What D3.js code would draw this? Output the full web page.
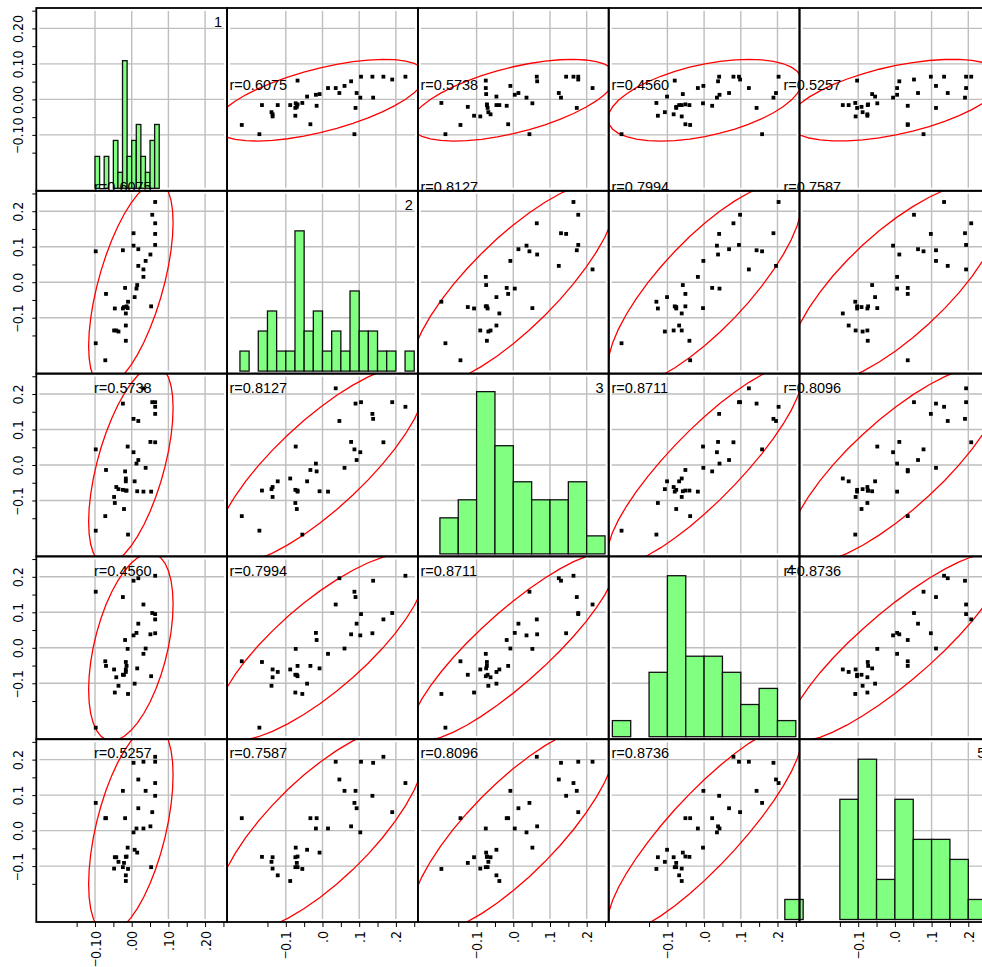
<!DOCTYPE html>
<html>
<head>
<meta charset="utf-8">
<script src="https://cdn.jsdelivr.net/npm/d3@7"></script>
<style>
  body { margin: 0; background: #ffffff; }
  svg { display: block; }
  .axis-label { font-family: "Liberation Sans Narrow", "Arial Narrow", "DejaVu Sans Condensed", sans-serif; font-size: 14px; fill: #000; }
  .axis-label .minus { font-family: "Noto Sans CJK JP", "Liberation Sans", sans-serif; }
  .r-label { font-family: "Liberation Sans", Arial, sans-serif; font-size: 14.5px; fill: #000; }
</style>
</head>
<body>
<svg id="chart" width="982" height="967"></svg>
<script>
// ---- data: five variables, 35 observations ----
const varNames = ["1", "2", "3", "4", "5"];

const v1 = [0.064, 0.032, 0.064, 0.005, 0.018, 0.064, 0.038, -0.024, -0.098, 0.018,
            0.056, 0.064, -0.072, -0.070, -0.018, 0.051, 0.013, 0.032, 0.005, -0.011,
            0.008, 0.015, -0.016, -0.042, -0.046, -0.014, -0.036, -0.021, 0.053, -0.024,
            -0.048, -0.010, -0.016, -0.016, -0.098];
const v2 = [0.166, 0.036, 0.105, 0.138, 0.046, 0.226, 0.060, 0.090, 0.087, 0.093,
            0.190, 0.136, -0.220, -0.033, -0.016, 0.078, -0.018, 0.015, 0.103, -0.073,
            -0.042, -0.008, -0.165, -0.136, -0.074, -0.068, -0.139, -0.070, -0.068, -0.074,
            -0.136, -0.055, -0.122, -0.088, -0.172];
const v3 = [0.064, 0.216, 0.177, 0.130, 0.124, 0.164, -0.008, 0.173, 0.044, 0.014,
            0.177, 0.144, -0.144, -0.014, -0.018, 0.065, 0.004, -0.075, 0.036, 0.052,
            -0.046, -0.074, -0.072, -0.062, -0.107, -0.072, -0.068, -0.124, -0.075, -0.070,
            -0.090, -0.196, -0.046, -0.038, -0.185];
const v4 = [0.080, 0.122, 0.095, 0.189, 0.196, 0.203, -0.002, 0.143, 0.158, 0.068,
            0.098, 0.041, -0.038, -0.051, 0.022, 0.038, 0.042, -0.017, 0.035, -0.003,
            -0.101, -0.058, -0.040, -0.083, -0.126, -0.051, -0.107, -0.076, -0.080, -0.076,
            -0.061, -0.130, -0.068, -0.061, -0.225];
const v5 = [0.208, 0.194, 0.194, 0.191, 0.144, 0.134, 0.112, 0.112, 0.078, 0.063,
            0.052, 0.098, 0.035, 0.035, 0.035, 0.012, 0.006, 0.006, -0.005, -0.048,
            -0.054, -0.062, -0.074, -0.075, -0.075, -0.073, -0.088, -0.091, -0.103, -0.103,
            -0.107, -0.108, -0.126, -0.142, -0.275];
const variables = [v1, v2, v3, v4, v5];

// pairwise correlations printed in the off-diagonal panels
const corr = [
  [1, 0.6075, 0.5738, 0.4560, 0.5257],
  [0.6075, 1, 0.8127, 0.7994, 0.7587],
  [0.5738, 0.8127, 1, 0.8711, 0.8096],
  [0.4560, 0.7994, 0.8711, 1, 0.8736],
  [0.5257, 0.7587, 0.8096, 0.8736, 1]
];

// histogram bin widths per variable
const histBinWidth = [0.0125, 0.025, 0.05, 0.05, 0.05];

// ticks and tick labels
const gridValues = [-0.1, 0, 0.1, 0.2];
const tickValues = [-0.15, -0.1, -0.05, 0, 0.05, 0.1, 0.15, 0.2, 0.25];
const yLabelsFirstRow = ["\u22120.10", "0.00", "0.10", "0.20"];
const yLabelsOther = ["\u22120.1", "0.0", "0.1", "0.2"];
const xLabelsFirstCol = ["\u22120.10", ".00", ".10", ".20"];
const xLabelsOther = ["\u22120.1", ".0", ".1", ".2"];

// ---- layout ----
const N = 5;
const L = 36.3, T = 8, CW = 190.8, RH = 182.8;
const xDomain = [-0.26, 0.26], yDomain = [-0.2575, 0.2575];
const histTopCount = [11.3, 9.0, 10.0, 11.2, 9.0];   // count reached at the panel top
const histBaseInset = 2.5;
const ellipseC = 2.55;                                 // ellipse radius in standard deviations
const rLabelDx = [57.7, 2.4, 2.6, 2.8, -16];          // per column
const rLabelDy = [82, 0.8, 19.4, 19.6, 19.2];         // baseline, per row
const pointSize = 3.8;

const svg = d3.select("#chart");
svg.append("rect").attr("width", 982).attr("height", 967).attr("fill", "#fff");

const xs = d3.range(N).map(j => d3.scaleLinear().domain(xDomain).range([L + j * CW, L + (j + 1) * CW]));
const ys = d3.range(N).map(i => d3.scaleLinear().domain(yDomain).range([T + (i + 1) * RH, T + i * RH]));

const means = variables.map(v => d3.mean(v));
const sds = variables.map(v => d3.deviation(v));

const defs = svg.append("defs");
const panelsG = svg.append("g");

function ellipsePoints(i, j, nSeg) {
  const r = corr[i][j];
  const s = Math.sqrt(1 - r * r);
  return d3.range(nSeg + 1).map(k => {
    const t = 2 * Math.PI * k / nSeg;
    const ux = Math.cos(t), uy = r * Math.cos(t) + s * Math.sin(t);
    return [xs[j](means[j] + ellipseC * sds[j] * ux), ys[i](means[i] + ellipseC * sds[i] * uy)];
  });
}

for (let i = 0; i < N; i++) {
  for (let j = 0; j < N; j++) {
    const x0 = L + j * CW, y0 = T + i * RH;
    const g = panelsG.append("g");

    // grid
    g.selectAll(null).data(gridValues).join("line")
      .attr("x1", d => xs[j](d)).attr("x2", d => xs[j](d))
      .attr("y1", y0 + 3).attr("y2", y0 + RH - 3)
      .attr("stroke", "#bebebe").attr("stroke-width", 1.4);
    g.selectAll(null).data(gridValues).join("line")
      .attr("y1", d => ys[i](d)).attr("y2", d => ys[i](d))
      .attr("x1", x0 + 3).attr("x2", x0 + CW - 3)
      .attr("stroke", "#bebebe").attr("stroke-width", 1.4);

    if (i === j) {
      // histogram of variable i
      const w = histBinWidth[i];
      const kMin = Math.round(-0.3 / w), kMax = Math.round(0.3 / w);
      const thr = d3.range(kMin, kMax + 1).map(k => +(k * w).toFixed(6));
      const bins = d3.bin().domain([thr[0], thr[thr.length - 1]]).thresholds(thr)(variables[i])
        .filter(b => b.length > 0);
      const yh = d3.scaleLinear().domain([0, histTopCount[i]]).range([y0 + RH - histBaseInset, y0]);
      g.selectAll(null).data(bins).join("rect")
        .attr("x", b => xs[j](b.x0))
        .attr("width", b => xs[j](b.x1) - xs[j](b.x0))
        .attr("y", b => yh(b.length))
        .attr("height", b => yh(0) - yh(b.length))
        .attr("fill", "#80ff80")
        .attr("stroke", "#111").attr("stroke-width", 1.3);
    } else {
      const cid = `clip-${i}-${j}`;
      defs.append("clipPath").attr("id", cid).append("rect")
        .attr("x", x0).attr("y", y0).attr("width", CW).attr("height", RH);
      const cg = g.append("g").attr("clip-path", `url(#${cid})`);
      cg.append("path")
        .attr("d", d3.line()(ellipsePoints(i, j, 40)))
        .attr("fill", "none").attr("stroke", "#ff0000").attr("stroke-width", 1.3);
      const pts = variables[j].map((xv, k) => [xv, variables[i][k]]);
      cg.selectAll(null).data(pts).join("rect")
        .attr("x", d => xs[j](d[0]) - pointSize / 2)
        .attr("y", d => ys[i](d[1]) - pointSize / 2)
        .attr("width", pointSize).attr("height", pointSize)
        .attr("fill", "#000");
    }
  }
}

// panel borders
const borderG = svg.append("g");
for (let i = 0; i < N; i++) {
  for (let j = 0; j < N; j++) {
    borderG.append("rect")
      .attr("x", L + j * CW).attr("y", T + i * RH)
      .attr("width", CW).attr("height", RH)
      .attr("fill", "none").attr("stroke", "#000").attr("stroke-width", 1.8);
  }
}

// tick label text with a wide minus sign
function styleLabels(sel) {
  sel.each(function () {
    const t = d3.select(this);
    const s = t.text();
    if (s.startsWith("\u2212")) {
      t.text(null);
      t.append("tspan").attr("class", "minus").text("\u2212");
      t.append("tspan").text(s.slice(1));
    }
  });
}

function labelFor(labels) {
  return d => {
    const k = gridValues.findIndex(v => Math.abs(v - d) < 1e-9);
    return k >= 0 ? labels[k] : "";
  };
}

// left axes
for (let i = 0; i < N; i++) {
  const ax = d3.axisLeft(ys[i]).tickValues(tickValues).tickSize(4).tickSizeOuter(0)
    .tickFormat(labelFor(i === 0 ? yLabelsFirstRow : yLabelsOther));
  const ga = svg.append("g").attr("transform", `translate(${L},0)`).call(ax);
  ga.select(".domain").remove();
  ga.selectAll(".tick line").attr("stroke", "#000");
  ga.selectAll(".tick text")
    .attr("class", "axis-label")
    .attr("x", null).attr("dy", null)
    .attr("text-anchor", "middle")
    .attr("transform", "translate(-13.3,0) rotate(-90)")
    .call(styleLabels);
}

// bottom axes
for (let j = 0; j < N; j++) {
  const ax = d3.axisBottom(xs[j]).tickValues(tickValues).tickSize(5).tickSizeOuter(0)
    .tickFormat(labelFor(j === 0 ? xLabelsFirstCol : xLabelsOther));
  const ga = svg.append("g").attr("transform", `translate(0,${T + N * RH})`).call(ax);
  ga.select(".domain").remove();
  ga.selectAll(".tick line").attr("stroke", "#000");
  ga.selectAll(".tick text")
    .attr("class", "axis-label")
    .attr("y", null).attr("dy", null)
    .attr("text-anchor", "end")
    .attr("transform", "translate(5,9) rotate(-90)")
    .call(styleLabels);
}

// labels: variable numbers on the diagonal, correlations elsewhere
const labelG = svg.append("g");
for (let i = 0; i < N; i++) {
  for (let j = 0; j < N; j++) {
    const x0 = L + j * CW, y0 = T + i * RH;
    if (i === j) {
      labelG.append("text").attr("class", "r-label")
        .attr("x", x0 + CW - 5).attr("y", y0 + 19)
        .attr("text-anchor", "end")
        .text(varNames[i]);
    } else {
      labelG.append("text").attr("class", "r-label")
        .attr("x", x0 + rLabelDx[j]).attr("y", y0 + rLabelDy[i])
        .text(`r=${corr[i][j].toFixed(4)}`);
    }
  }
}
</script>
</body>
</html>
